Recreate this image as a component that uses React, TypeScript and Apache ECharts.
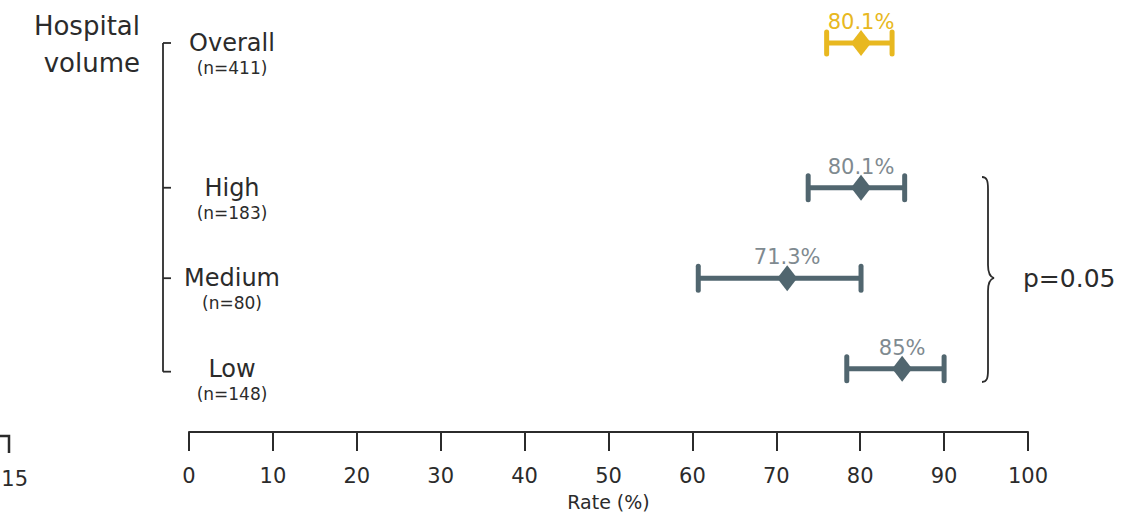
import React, { useEffect, useRef } from "react";
import * as echarts from "echarts";

const groups = ["Overall", "High", "Medium", "Low"];
const sampleSizes = [411, 183, 80, 148];
const rates = [80.1, 80.1, 71.3, 85];
const ciLower = [76, 73.8, 60.7, 78.4];
const ciUpper = [83.8, 85.3, 80.1, 90];
const rowLevels = [3.6, 2, 1, 0];
const groupTitle = ["Hospital", "volume"];
const axisTitle = "Rate (%)";
const pValueText = "p=0.05";
const strayLabel = "15";

const FONT = "DejaVu Sans, Liberation Sans, sans-serif";
const SLATE = "#51666f";
const GOLD = "#e8b820";
const DARK = "#2b2b2b";

echarts.graphic.registerShape(
  "brace",
  echarts.graphic.extendPath(
    "M0,0 C5,0 6,4 6,12 L6,88 C6,96 8,100 12,101 C8,102 6,106 6,114 L6,193 C6,201 5,205 0,205",
    {}
  )
);

export default function App() {
  const ref = useRef<HTMLDivElement>(null);
  useEffect(() => {
    document.body.style.margin = "0";
    const chart = echarts.init(ref.current!, null, { renderer: "svg" });
    const data = groups.map((g, i) => [ciLower[i], ciUpper[i], rates[i], rowLevels[i], i]);
    chart.setOption({
      animation: false,
      grid: { left: 189, right: 113, top: 43, bottom: 83, outerBoundsMode: "none", containLabel: false },
      xAxis: {
        type: "value",
        min: 0,
        max: 100,
        interval: 10,
        splitLine: { show: false },
        axisLine: { show: true, onZero: false, lineStyle: { color: DARK, width: 2 } },
        axisTick: { show: true, length: 19, lineStyle: { color: DARK, width: 2 } },
        axisLabel: { color: DARK, fontSize: 21, fontFamily: FONT, margin: 33 },
        name: axisTitle,
        nameLocation: "middle",
        nameGap: 60,
        nameTextStyle: { color: DARK, fontSize: 19, fontFamily: FONT },
      },
      yAxis: { type: "value", min: -0.7, max: 3.6, show: false },
      graphic: [
        {
          type: "text",
          x: 140,
          y: 7,
          style: {
            text: groupTitle.join("\n"),
            align: "right",
            fontSize: 26,
            lineHeight: 37,
            fontFamily: FONT,
            fill: DARK,
          },
        },
        {
          type: "brace",
          x: 982,
          y: 177,
          style: { stroke: DARK, fill: "none", lineWidth: 1.8 },
        },
        {
          type: "text",
          x: 1023,
          y: 278,
          style: {
            text: pValueText,
            fontSize: 25,
            fontFamily: FONT,
            fill: DARK,
            verticalAlign: "middle",
          },
        },
        {
          type: "polyline",
          shape: { points: [[0, 436], [9, 436], [9, 453]] },
          style: { stroke: DARK, lineWidth: 2.5, fill: "none" },
        },
        {
          type: "text",
          x: 28,
          y: 479,
          style: {
            text: strayLabel,
            align: "right",
            verticalAlign: "middle",
            fontSize: 21,
            fontFamily: FONT,
            fill: DARK,
          },
        },
      ],
      series: [
        {
          type: "custom",
          data,
          clip: false,
          renderItem: (params: any, api: any) => {
            const idx = api.value(4);
            const y = api.value(3);
            const lo = api.coord([api.value(0), y]);
            const hi = api.coord([api.value(1), y]);
            const mid = api.coord([api.value(2), y]);
            const origin = api.coord([0, y]);
            const color = idx === 0 ? GOLD : SLATE;
            const capH = idx === 0 ? 11 : 12;
            const py = mid[1];
            const last = groups.length - 1;
            const children: any[] = [
              {
                type: "line",
                shape: { x1: lo[0], y1: py, x2: hi[0], y2: py },
                style: { stroke: color, lineWidth: 5 },
              },
              {
                type: "line",
                shape: { x1: lo[0], y1: py - capH, x2: lo[0], y2: py + capH },
                style: { stroke: color, lineWidth: 5, lineCap: "round" },
              },
              {
                type: "line",
                shape: { x1: hi[0], y1: py - capH, x2: hi[0], y2: py + capH },
                style: { stroke: color, lineWidth: 5, lineCap: "round" },
              },
              {
                type: "polygon",
                shape: {
                  points: [
                    [mid[0] - 10, py],
                    [mid[0], py - 13],
                    [mid[0] + 10, py],
                    [mid[0], py + 13],
                  ],
                },
                style: { fill: color },
              },
              {
                type: "text",
                x: mid[0],
                y: py - 21,
                style: {
                  text: `${rates[idx]}%`,
                  align: "center",
                  verticalAlign: "middle",
                  fontSize: 21,
                  lineHeight: 22,
                  fontFamily: FONT,
                  fill: idx === 0 ? GOLD : "#7f8a90",
                },
              },
              {
                type: "text",
                x: origin[0] + 43,
                y: py,
                style: {
                  text: groups[idx],
                  align: "center",
                  verticalAlign: "middle",
                  fontSize: 24,
                  lineHeight: 22,
                  fontFamily: FONT,
                  fill: DARK,
                },
              },
              {
                type: "text",
                x: origin[0] + 43,
                y: py + 25,
                style: {
                  text: `(n=${sampleSizes[idx]})`,
                  align: "center",
                  verticalAlign: "middle",
                  fontSize: 17,
                  lineHeight: 17,
                  fontFamily: FONT,
                  fill: DARK,
                },
              },
            ];
            const tickY = idx === last ? py + 3 : py;
            children.push({
              type: "line",
              shape: { x1: origin[0] - 26, y1: tickY, x2: origin[0] - 18, y2: tickY },
              style: { stroke: DARK, lineWidth: 1.8 },
            });
            if (idx === 0) {
              const bottom = api.coord([0, rowLevels[last]]);
              children.push({
                type: "line",
                shape: {
                  x1: origin[0] - 26,
                  y1: py,
                  x2: origin[0] - 26,
                  y2: bottom[1] + 3,
                },
                style: { stroke: DARK, lineWidth: 1.8 },
              });
            }
            return { type: "group", children };
          },
        },
      ],
    });
    return () => chart.dispose();
  }, []);
  return <div ref={ref} style={{ width: 1141, height: 515 }} />;
}
